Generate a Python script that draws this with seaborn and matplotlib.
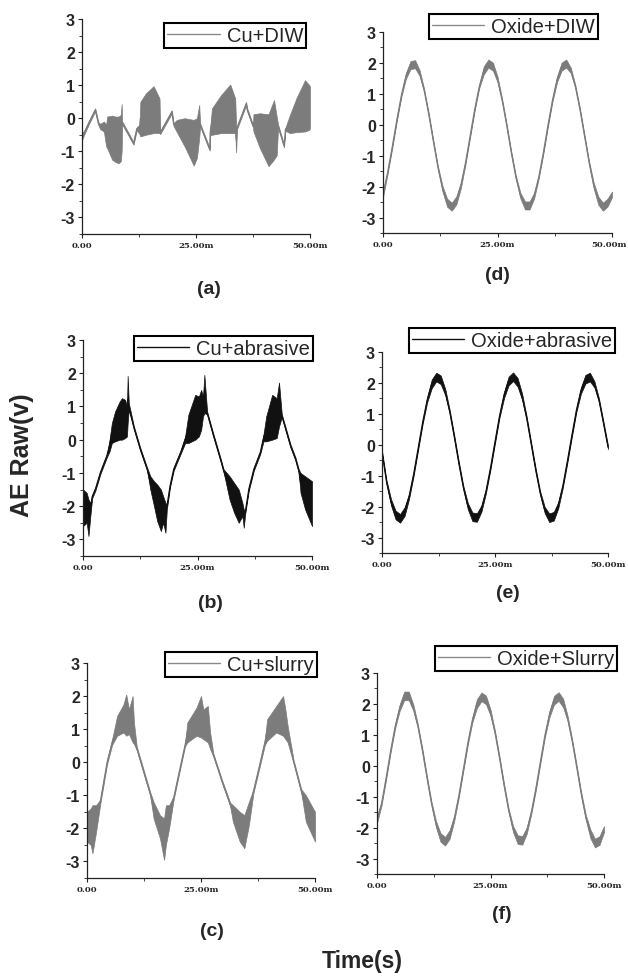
import numpy as np
import matplotlib
matplotlib.use("Agg")
import matplotlib.pyplot as plt
import matplotlib.transforms as mtransforms
import seaborn as sns
from matplotlib.ticker import FixedLocator, MultipleLocator

sns.set_style("ticks")
plt.rcParams['font.family'] = ['Liberation Sans', 'DejaVu Sans']

# ---------------- data (time in ms, AE raw in V) ----------------
# (a) Cu + DIW : lower / upper envelope of the noisy signal
a_t  = [0.0, 0.4, 1.5, 2.9, 3.6, 4.0, 4.8, 5.3, 5.5, 6.6, 7.3, 8.0, 8.5, 8.7, 8.8, 11.3, 12.0, 12.6,
        12.8, 14.0, 15.7, 17.0, 17.15, 19.7, 20.1, 20.8, 22.5, 24.5, 25.2, 25.7, 25.9, 28.0, 28.1,
        28.5, 30.5, 32.5, 33.6, 33.8, 34.0, 36.0, 36.2, 37.5, 37.6, 39.0, 40.9, 42.1, 42.7, 43.0,
        44.3, 44.6, 45.6, 47.0, 48.9, 49.85, 50.0]
a_lo = [-0.66, -0.52, -0.18, 0.21, -0.21, -0.33, -0.40, -0.85, -0.90, -1.25, -1.32, -1.36, -1.30,
        -1.00, -0.18, -0.80, -0.36, -0.48, -0.55, -0.50, -0.45, -0.45, -0.48, 0.15, -0.24, -0.42,
        -0.85, -1.43, -1.20, -0.60, -0.24, -0.98, -0.52, -0.50, -0.45, -0.45, -0.45, -1.03, -0.33,
        0.40, 0.22, -0.28, -0.40, -0.90, -1.45, -1.25, -1.12, -0.28, -0.88, -0.38, -0.45, -0.42,
        -0.40, -0.35, -0.30]
a_hi = [-0.42, -0.40, -0.09, 0.30, -0.12, -0.17, -0.10, -0.20, 0.05, 0.08, 0.05, 0.05, 0.10,
        0.43, -0.09, -0.72, -0.27, -0.20, 0.50, 0.75, 0.97, 0.60, -0.39, 0.24, -0.15, -0.05,
        0.00, -0.05, 0.00, 0.40, -0.15, -0.90, -0.30, 0.30, 0.70, 1.02, 0.60, -0.25, -0.24,
        0.49, 0.31, -0.19, 0.12, 0.15, 0.12, 0.55, 0.05, -0.19, -0.79, -0.29, 0.10, 0.60,
        1.15, 1.00, 0.95]

# (b) Cu + abrasive
b_t  = [0.0, 0.8, 1.2, 1.6, 2.0, 2.7, 3.8, 5.2, 5.8, 6.3, 7.0, 8.0, 8.5, 9.2, 9.6, 9.75, 10.0, 11.1,
        12.5, 14.0, 14.7, 15.5, 16.2, 17.0, 17.5, 18.0, 18.3, 19.0, 19.8, 21.3, 22.3, 23.0, 24.5,
        25.3, 25.8, 26.2, 26.5, 27.1, 28.5, 30.0, 30.7, 32.0, 33.0, 34.0, 34.8, 35.1, 35.4, 36.2,
        37.3, 38.7, 39.4, 40.0, 41.3, 42.3, 42.8, 43.4, 45.3, 46.4, 47.1, 47.5, 48.5, 50.0]
b_lo = [-2.60, -2.50, -2.90, -2.30, -1.76, -1.53, -1.03, -0.53, -0.35, -0.10, -0.05, 0.00, 0.00, 0.05,
        0.10, 0.50, 0.90, 0.32, -0.33, -0.93, -1.50, -2.00, -2.45, -2.75, -2.50, -2.80, -2.10,
        -1.43, -0.93, -0.43, -0.10, -0.10, 0.00, 0.10, 0.30, 0.70, 0.80, 0.76, 0.07, -0.63,
        -0.98, -1.80, -2.20, -2.50, -2.30, -2.65, -2.25, -1.53, -0.93, -0.43, -0.05, -0.05,
        0.00, 0.05, 0.40, 0.68, -0.23, -0.63, -0.98, -1.60, -2.10, -2.60]
b_hi = [-1.50, -1.60, -1.80, -1.90, -1.67, -1.44, -0.94, -0.44, 0.00, 0.50, 0.85, 1.15, 1.25, 1.20,
        1.00, 1.92, 1.10, 0.41, -0.24, -0.84, -1.10, -1.25, -1.35, -1.50, -1.70, -1.90, -1.95,
        -1.34, -0.84, -0.34, 0.10, 0.75, 1.35, 1.30, 1.50, 1.30, 1.95, 0.85, 0.16, -0.54,
        -0.89, -1.10, -1.30, -1.50, -1.90, -2.10, -2.14, -1.44, -0.84, -0.34, 0.15, 0.70,
        1.35, 1.25, 1.72, 0.77, -0.14, -0.54, -0.89, -1.00, -1.10, -1.25]

# (c) Cu + slurry
c_t  = [0.0, 0.8, 1.2, 2.0, 2.9, 4.4, 5.5, 6.6, 8.0, 8.6, 9.2, 10.0, 10.3, 10.9, 12.4, 13.9, 14.6,
        16.0, 16.9, 17.3, 18.0, 19.0, 20.4, 21.5, 22.0, 24.0, 25.0, 25.5, 26.5, 27.0, 27.7, 29.6,
        31.4, 32.0, 33.5, 34.5, 35.5, 36.5, 38.0, 39.0, 39.5, 41.5, 43.0, 43.5, 44.0, 45.3, 47.0,
        48.0, 50.0]
c_lo = [-2.40, -2.50, -2.75, -2.10, -1.27, -0.06, 0.52, 0.80, 0.90, 0.80, 0.85, 0.60, 0.55, 0.37,
        -0.33, -1.03, -1.70, -2.30, -2.95, -2.50, -2.00, -1.13, -0.22, 0.48, 0.60, 0.80, 0.75,
        0.70, 0.60, 0.40, 0.18, -0.62, -1.33, -1.80, -2.40, -2.60, -1.90, -0.93, -0.06, 0.52,
        0.65, 0.90, 0.80, 0.70, 0.60, -0.03, -0.93, -1.80, -2.40]
c_hi = [-1.50, -1.40, -1.30, -1.30, -1.13, 0.06, 0.68, 1.40, 1.75, 2.05, 1.60, 2.00, 1.20, 0.48,
        -0.22, -0.92, -1.20, -1.60, -1.70, -1.30, -1.30, -1.02, -0.13, 0.57, 1.20, 1.65, 2.00,
        1.60, 1.70, 0.90, 0.27, -0.53, -1.22, -1.30, -1.50, -1.60, -1.20, -0.82, 0.06, 0.68,
        1.30, 1.70, 2.00, 1.60, 1.10, 0.07, -0.82, -1.00, -1.50]

# sine-like panels: centre line and half band width, sampled every 1 ms
t_ms = [0, 1, 2, 3, 4, 5, 6, 7, 8, 9, 10, 11, 12, 13, 14, 15, 16, 17, 18, 19, 20, 21, 22, 23, 24,
        25, 26, 27, 28, 29, 30, 31, 32, 33, 34, 35, 36, 37, 38, 39, 40, 41, 42, 43, 44, 45, 46,
        47, 48, 49, 50]
# (d) Oxide + DIW
d_mid = [-2.25, -1.54, -0.72, 0.15, 0.95, 1.58, 1.93, 1.96, 1.67, 1.10, 0.32, -0.55, -1.39, -2.07,
         -2.52, -2.65, -2.45, -1.96, -1.23, -0.37, 0.49, 1.23, 1.76, 1.98, 1.88, 1.47, 0.80, -0.02,
         -0.90, -1.69, -2.29, -2.61, -2.61, -2.29, -1.69, -0.90, -0.02, 0.80, 1.47, 1.88, 1.98,
         1.76, 1.23, 0.49, -0.37, -1.23, -1.96, -2.45, -2.65, -2.52, -2.25]
d_spr = [0.09, 0.05, 0.05, 0.05, 0.05, 0.09, 0.13, 0.13, 0.09, 0.05, 0.05, 0.05, 0.05, 0.09, 0.13,
         0.13, 0.13, 0.09, 0.05, 0.05, 0.05, 0.05, 0.13, 0.13, 0.13, 0.09, 0.05, 0.05, 0.05, 0.05,
         0.09, 0.13, 0.13, 0.09, 0.05, 0.05, 0.05, 0.05, 0.09, 0.13, 0.13, 0.09, 0.05, 0.05, 0.05,
         0.05, 0.09, 0.13, 0.13, 0.13, 0.09]
# (e) Oxide + abrasive
e_mid = [-0.25, -1.21, -1.86, -2.27, -2.38, -2.16, -1.66, -0.94, -0.10, 0.74, 1.46, 1.97, 2.19, 2.10,
         1.70, 1.05, 0.24, -0.61, -1.39, -1.99, -2.33, -2.35, -2.06, -1.50, -0.74, 0.11, 0.94, 1.61,
         2.06, 2.20, 2.02, 1.55, 0.86, 0.02, -0.82, -1.57, -2.11, -2.36, -2.31, -1.95, -1.33, -0.53,
         0.31, 1.12, 1.75, 2.12, 2.19, 1.95, 1.44, 0.69, -0.08]
e_spr = [0.06, 0.06, 0.10, 0.14, 0.14, 0.14, 0.08, 0.06, 0.06, 0.06, 0.08, 0.14, 0.14, 0.14, 0.10,
         0.06, 0.06, 0.06, 0.06, 0.10, 0.14, 0.14, 0.10, 0.06, 0.06, 0.06, 0.06, 0.10, 0.14, 0.14,
         0.14, 0.10, 0.06, 0.06, 0.06, 0.06, 0.10, 0.14, 0.14, 0.10, 0.06, 0.06, 0.06, 0.06, 0.10,
         0.14, 0.14, 0.10, 0.06, 0.06, 0.06]
# (f) Oxide + Slurry
f_mid = [-1.75, -1.22, -0.39, 0.49, 1.28, 1.88, 2.26, 2.26, 1.88, 1.28, 0.49, -0.39, -1.22, -1.89,
         -2.32, -2.44, -2.22, -1.71, -0.98, -0.12, 0.74, 1.48, 2.01, 2.23, 2.13, 1.72, 1.06, 0.23,
         -0.65, -1.45, -2.06, -2.39, -2.41, -2.09, -1.49, -0.72, 0.15, 1.00, 1.68, 2.12, 2.24, 2.03,
         1.52, 0.79, -0.06, -0.93, -1.67, -2.20, -2.50, -2.42, -2.05]
f_spr = [0.10, 0.06, 0.06, 0.06, 0.06, 0.10, 0.14, 0.14, 0.10, 0.06, 0.06, 0.06, 0.06, 0.10, 0.14,
         0.14, 0.14, 0.08, 0.06, 0.06, 0.06, 0.08, 0.14, 0.14, 0.14, 0.10, 0.06, 0.06, 0.06, 0.06,
         0.10, 0.14, 0.14, 0.10, 0.06, 0.06, 0.06, 0.06, 0.10, 0.14, 0.14, 0.14, 0.08, 0.06, 0.06,
         0.06, 0.08, 0.14, 0.14, 0.14, 0.10]

legend_labels = ["Cu+DIW", "Cu+abrasive", "Cu+slurry", "Oxide+DIW", "Oxide+abrasive", "Oxide+Slurry"]
panel_tags = ["(a)", "(b)", "(c)", "(d)", "(e)", "(f)"]
x_tick_vals = [0, 25, 50]
x_tick_text = ["0.00", "25.00m", "50.00m"]
y_tick_vals = [-3, -2, -1, 0, 1, 2, 3]
y_tick_text = ["-3", "-2", "-1", "0", "1", "2", "3"]

GRAY = "#7c7c7c"
BLACK = "#111111"

W, H = 628, 979
fig = plt.figure(figsize=(W / 100, H / 100), dpi=100)


def rect(l, r, t, b):
    return [l / W, 1 - b / H, (r - l) / W, (b - t) / H]


def envelope(mid, spr):
    m = np.asarray(mid, float)
    s = np.asarray(spr, float)
    return m - s, m + s

series = [
    (a_t, a_lo, a_hi),
    (b_t, b_lo, b_hi),
    (c_t, c_lo, c_hi),
    (t_ms,) + envelope(d_mid, d_spr),
    (t_ms,) + envelope(e_mid, e_spr),
    (t_ms,) + envelope(f_mid, f_spr),
]
colors = [GRAY, BLACK, GRAY, GRAY, BLACK, GRAY]
ax_rects = [rect(82, 310, 20, 235), rect(83, 312, 341, 557), rect(87, 315, 664, 879),
            rect(383, 612, 33, 234), rect(382, 608, 353, 554), rect(377, 604, 674, 875)]
leg_anchor = [(306, 24), (313, 337), (317, 653), (598, 15), (615, 329), (617, 647)]
tag_pos = [(209, 289), (210, 603), (212, 932), (497, 276), (508, 593), (502, 915)]

for i in range(6):
    ax = fig.add_axes(ax_rects[i])
    t, lo, hi = series[i]
    t = np.asarray(t, float)
    lo = np.asarray(lo, float)
    hi = np.asarray(hi, float)
    col = colors[i]
    ax.fill_between(t, lo, hi, color=col, linewidth=0.5, edgecolor=col)
    sns.lineplot(x=t, y=(lo + hi) / 2, ax=ax, color=col, linewidth=0.8,
                 label=legend_labels[i], legend=False)
    ax.set_xlim(0, 50)
    ax.set_ylim(-3.5, 3.0)
    sns.despine(ax=ax)
    for s in ["left", "bottom"]:
        ax.spines[s].set_linewidth(0.9)
        ax.spines[s].set_color("#222222")
    ax.xaxis.set_major_locator(FixedLocator(x_tick_vals))
    ax.set_xticklabels(x_tick_text, fontfamily="DejaVu Serif", fontweight="bold", fontsize=6.1)
    ax.xaxis.set_minor_locator(FixedLocator([12.5, 37.5]))
    ax.yaxis.set_major_locator(FixedLocator(y_tick_vals))
    ax.set_yticklabels(y_tick_text, fontweight="bold", fontsize=11.5)
    ax.yaxis.set_minor_locator(MultipleLocator(0.5))
    ax.tick_params(axis="both", which="major", direction="out", length=3, width=0.8, pad=2,
                   color="#222222")
    ax.tick_params(axis="both", which="minor", direction="out", length=2, width=0.6,
                   color="#222222")
    ax.set_xlabel("")
    ax.set_ylabel("")
    ax.patch.set_alpha(0)
    if i == 3:
        lab = ax.get_xticklabels()[-1]
        lab.set_transform(lab.get_transform() +
                          mtransforms.ScaledTranslation(-3 / 100, 0, fig.dpi_scale_trans))

    lx, ly = leg_anchor[i]
    leg = ax.legend(loc="upper right", bbox_to_anchor=(lx / W, 1 - ly / H),
                    bbox_transform=fig.transFigure, frameon=True, fancybox=False,
                    fontsize=14.5, handlelength=2.6, handletextpad=0.35, borderpad=0.14,
                    borderaxespad=0)
    leg.get_frame().set_edgecolor("black")
    leg.get_frame().set_linewidth(1.5)
    leg.get_frame().set_facecolor("white")
    leg.get_frame().set_alpha(1)
    for ln in leg.get_lines():
        ln.set_linewidth(1.0)
        ln.set_color(col if col == BLACK else "#8a8a8a")

    px, py = tag_pos[i]
    fig.text(px / W, 1 - py / H, panel_tags[i], ha="center", va="center",
             fontsize=14, fontweight="bold")

fig.text(22 / W, 1 - 455 / H, "AE Raw(v)", rotation=90, ha="center", va="center",
         fontsize=18, fontweight="bold")
fig.text(362 / W, 1 - 962 / H, "Time(s)", ha="center", va="center",
         fontsize=16.5, fontweight="bold")

fig.savefig("out.png", dpi=100)
